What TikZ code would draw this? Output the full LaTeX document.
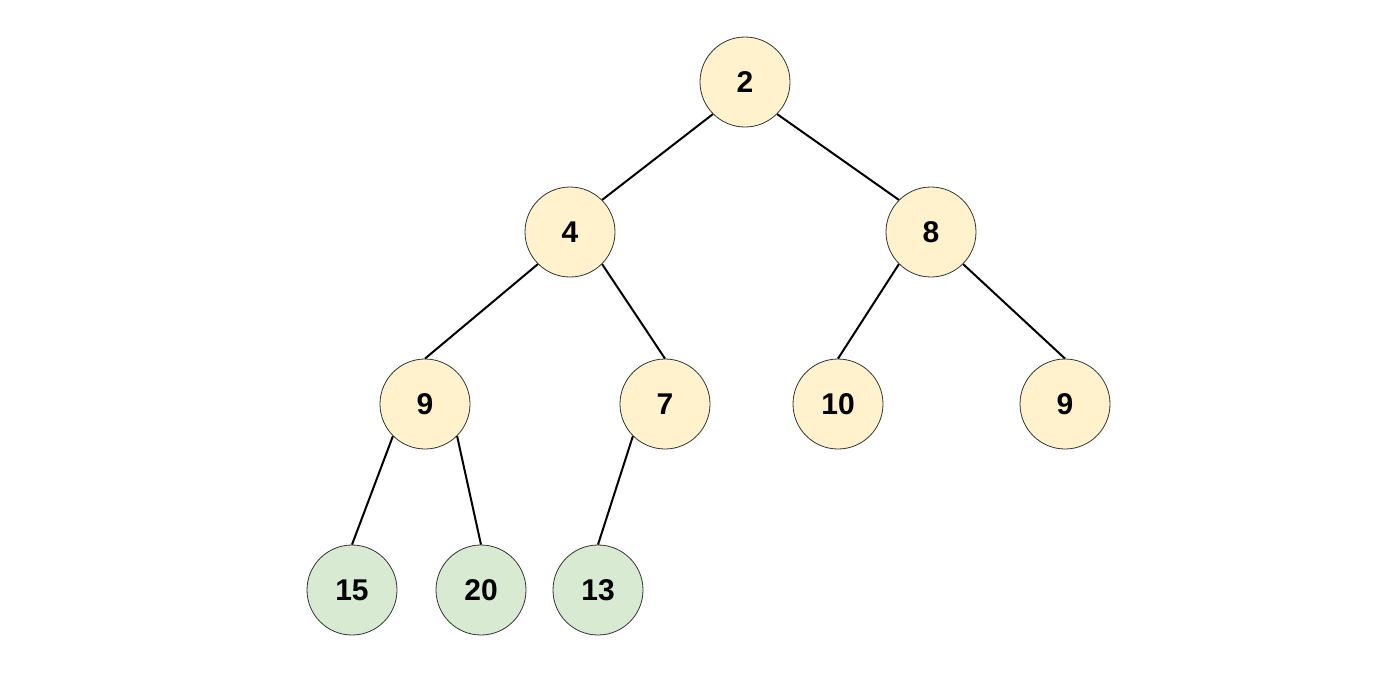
\documentclass[tikz,border=0pt]{standalone}
\usepackage{fontspec}
\setmainfont{Liberation Sans}
\definecolor{nodeyellow}{HTML}{FFF2CC}
\definecolor{nodegreen}{HTML}{D9EAD3}
\definecolor{rimgray}{HTML}{333333}
\begin{document}
\begin{tikzpicture}[x=1pt,y=-1pt,
  treenode/.style={circle,draw=rimgray,line width=0.8pt,minimum size=90pt,inner sep=0pt,
    font=\fontsize{30}{32}\selectfont\bfseries},
  heapnode/.style={treenode,fill=nodeyellow},
  leafnode/.style={treenode,fill=nodegreen},
  edge/.style={draw=black,line width=2pt}]
\useasboundingbox (0,0) rectangle (1400,672);
\node[heapnode] (n2) at (745,82) {2};
\node[heapnode] (n4) at (570,232) {4};
\node[heapnode] (n8) at (931,232) {8};
\node[heapnode] (n9a) at (425,404) {9};
\node[heapnode] (n7) at (665,404) {7};
\node[heapnode] (n10) at (838,404) {10};
\node[heapnode] (n9b) at (1065,404) {9};
\node[leafnode] (n15) at (352,590) {15};
\node[leafnode] (n20) at (481,590) {20};
\node[leafnode] (n13) at (598,590) {13};
\draw[edge] (n2.225) -- (n4.45);
\draw[edge] (n2.315) -- (n8.135);
\draw[edge] (n4.225) -- (n9a.north);
\draw[edge] (n4.315) -- (n7.north);
\draw[edge] (n8.225) -- (n10.north);
\draw[edge] (n8.315) -- (n9b.north);
\draw[edge] (n9a.225) -- (n15.north);
\draw[edge] (n9a.315) -- (n20.north);
\draw[edge] (n7.225) -- (n13.north);
\end{tikzpicture}
\end{document}
